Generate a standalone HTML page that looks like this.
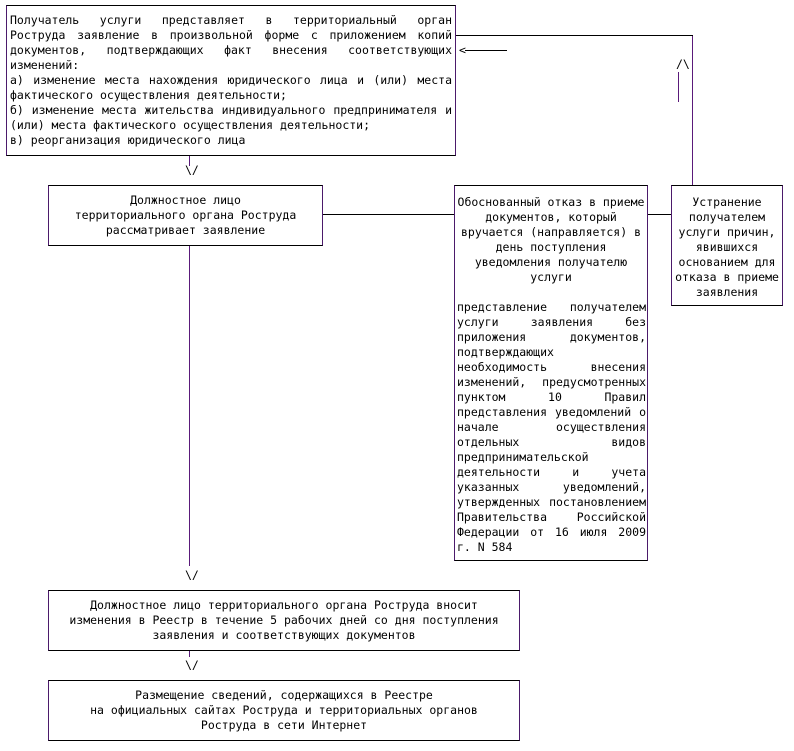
<!DOCTYPE html>
<html><head><meta charset="utf-8"><style>
body{margin:0;width:794px;height:751px;background:#fff;position:relative;overflow:hidden;font-family:"DejaVu Sans Mono","Liberation Mono",monospace;font-size:11.5px;color:#000}
.b{position:absolute;border:1px solid #000;border-left-color:#4b1a6b;border-right-color:#4b1a6b;box-sizing:border-box}
.t{position:absolute;line-height:15px;white-space:pre}
.j{text-align:justify;text-align-last:justify;white-space:normal;height:15px;overflow:visible}
.c{text-align:center}
.h{position:absolute;height:1px;background:#000}
.v{position:absolute;width:1px;background:#5a1a7a}
.a{position:absolute;line-height:12px;white-space:pre}
</style></head><body>
<div class="b" style="left:6px;top:5px;width:450px;height:151px"></div>
<div class="t" style="left:10px;top:13px;width:442px;white-space:normal">
<div class="j">Получатель услуги представляет в территориальный орган</div>
<div class="j">Роструда заявление в произвольной форме с приложением копий</div>
<div class="j">документов, подтверждающих факт внесения соответствующих</div>
<div style="height:15px">изменений:</div>
<div class="j">а) изменение места нахождения юридического лица и (или) места</div>
<div style="height:15px">фактического осуществления деятельности;</div>
<div class="j">б) изменение места жительства индивидуального предпринимателя и</div>
<div style="height:15px">(или) места фактического осуществления деятельности;</div>
<div style="height:15px">в) реорганизация юридического лица</div>
</div>

<div class="v" style="left:189px;top:156px;height:10px"></div>
<div class="a" style="left:185px;top:164px">\/</div>

<div class="b" style="left:48px;top:185px;width:275px;height:61px"></div>
<div class="t c" style="left:48px;top:193px;width:275px">Должностное лицо
территориального органа Роструда
рассматривает заявление</div>

<div class="h" style="left:323px;top:214px;width:131px"></div>

<div class="b" style="left:454px;top:185px;width:194px;height:376px"></div>
<div class="t c" style="left:454px;top:195px;width:194px">Обоснованный отказ в приеме
документов, который
вручается (направляется) в
день поступления
уведомления получателю
услуги</div>
<div class="t" style="left:457px;top:300px;width:189px;white-space:normal">
<div class="j">представление получателем</div>
<div class="j">услуги заявления без</div>
<div class="j">приложения документов,</div>
<div style="height:15px">подтверждающих</div>
<div class="j">необходимость внесения</div>
<div class="j">изменений, предусмотренных</div>
<div class="j">пунктом 10 Правил</div>
<div class="j">представления уведомлений о</div>
<div class="j">начале осуществления</div>
<div class="j">отдельных видов</div>
<div style="height:15px">предпринимательской</div>
<div class="j">деятельности и учета</div>
<div class="j">указанных уведомлений,</div>
<div class="j">утвержденных постановлением</div>
<div class="j">Правительства Российской</div>
<div class="j">Федерации от 16 июля 2009</div>
<div style="height:15px">г. N 584</div>
</div>

<div class="h" style="left:648px;top:214px;width:23px"></div>

<div class="b" style="left:671px;top:185px;width:112px;height:121px"></div>
<div class="t c" style="left:671px;top:195px;width:112px">Устранение
получателем
услуги причин,
явившихся
основанием для
отказа в приеме
заявления</div>

<div class="v" style="left:692px;top:35px;height:150px"></div>
<div class="h" style="left:456px;top:35px;width:237px"></div>
<div class="a" style="left:676px;top:58px">/\</div>
<div class="v" style="left:678px;top:72px;height:30px"></div>
<div class="h" style="left:465px;top:50px;width:42px"></div>
<div class="a" style="left:459px;top:44px">&lt;</div>

<div class="v" style="left:189px;top:246px;height:320px"></div>
<div class="a" style="left:185px;top:569px">\/</div>

<div class="b" style="left:48px;top:590px;width:472px;height:61px"></div>
<div class="t c" style="left:48px;top:598px;width:472px">Должностное лицо территориального органа Роструда вносит
изменения в Реестр в течение 5 рабочих дней со дня поступления
заявления и соответствующих документов</div>

<div class="v" style="left:189px;top:651px;height:6px"></div>
<div class="a" style="left:185px;top:659px">\/</div>

<div class="b" style="left:48px;top:680px;width:472px;height:61px"></div>
<div class="t c" style="left:48px;top:688px;width:472px">Размещение сведений, содержащихся в Реестре
на официальных сайтах Роструда и территориальных органов
Роструда в сети Интернет</div>
</body></html>
